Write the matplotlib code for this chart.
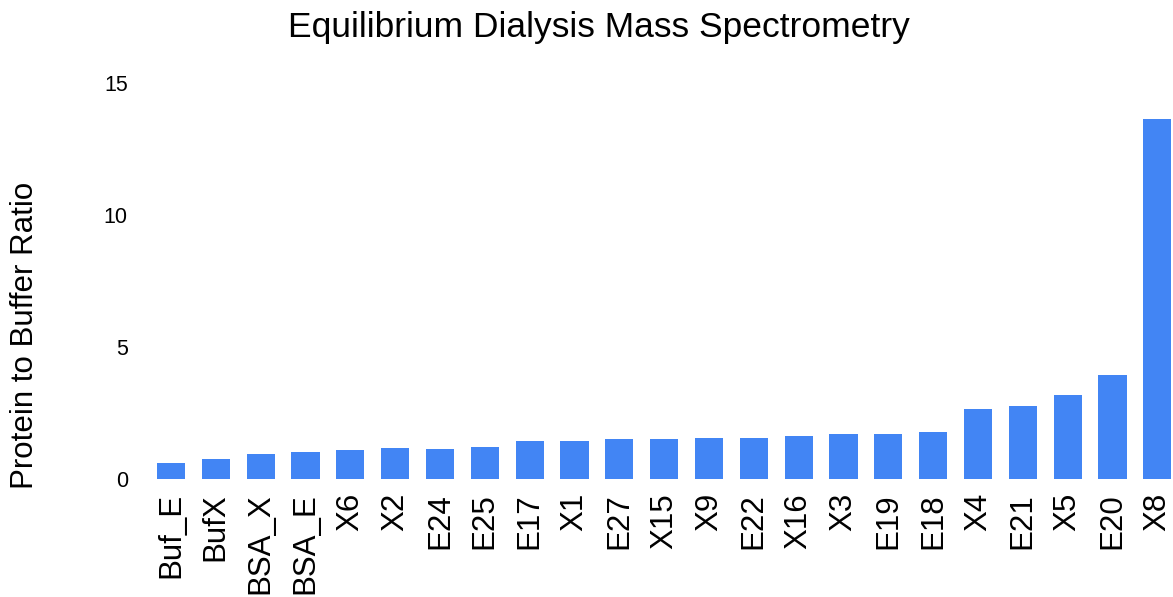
import matplotlib
matplotlib.use("Agg")
import matplotlib.pyplot as plt

plt.rcParams['font.family'] = ['Liberation Sans', 'DejaVu Sans']

samples = ["Buf_E", "BufX", "BSA_X", "BSA_E", "X6", "X2", "E24", "E25", "E17", "X1",
           "E27", "X15", "X9", "E22", "X16", "X3", "E19", "E18", "X4", "E21",
           "X5", "E20", "X8"]
ratios = [0.62, 0.76, 0.96, 1.02, 1.10, 1.16, 1.15, 1.22, 1.44, 1.43,
          1.50, 1.50, 1.56, 1.56, 1.64, 1.70, 1.70, 1.77, 2.65, 2.77,
          3.19, 3.93, 13.64]
y_ticks = [0, 5, 10, 15]

W, H = 1173, 597
fig = plt.figure(figsize=(W / 100, H / 100), dpi=100)
ax = fig.add_axes([148.6 / W, 1 - 479 / H, 1 - 148.6 / W, (479 - 82.7) / H])

x = range(len(samples))
ax.bar(x, ratios, width=0.63, color="#4285F4", zorder=2)

ax.set_xlim(-0.5, 22.35)
ax.set_ylim(0, 15)
ax.set_yticks(y_ticks)
ax.set_yticklabels([str(t) for t in y_ticks], fontsize=15.5)
ax.set_xticks(list(x))
ax.set_xticklabels(samples, rotation=90, fontsize=22.5, va="top", ha="center")
ax.tick_params(axis="x", length=0, pad=10)
ax.tick_params(axis="y", length=0, pad=15)
for s in ax.spines.values():
    s.set_visible(False)

fig.text(599 / W, 1 - 28 / H, "Equilibrium Dialysis Mass Spectrometry",
         ha="center", va="center", fontsize=25.5)
fig.text(25 / W, 1 - 335 / H, "Protein to Buffer Ratio", rotation=90,
         ha="center", va="center", fontsize=22.5)

fig.savefig("out.png", dpi=100)
